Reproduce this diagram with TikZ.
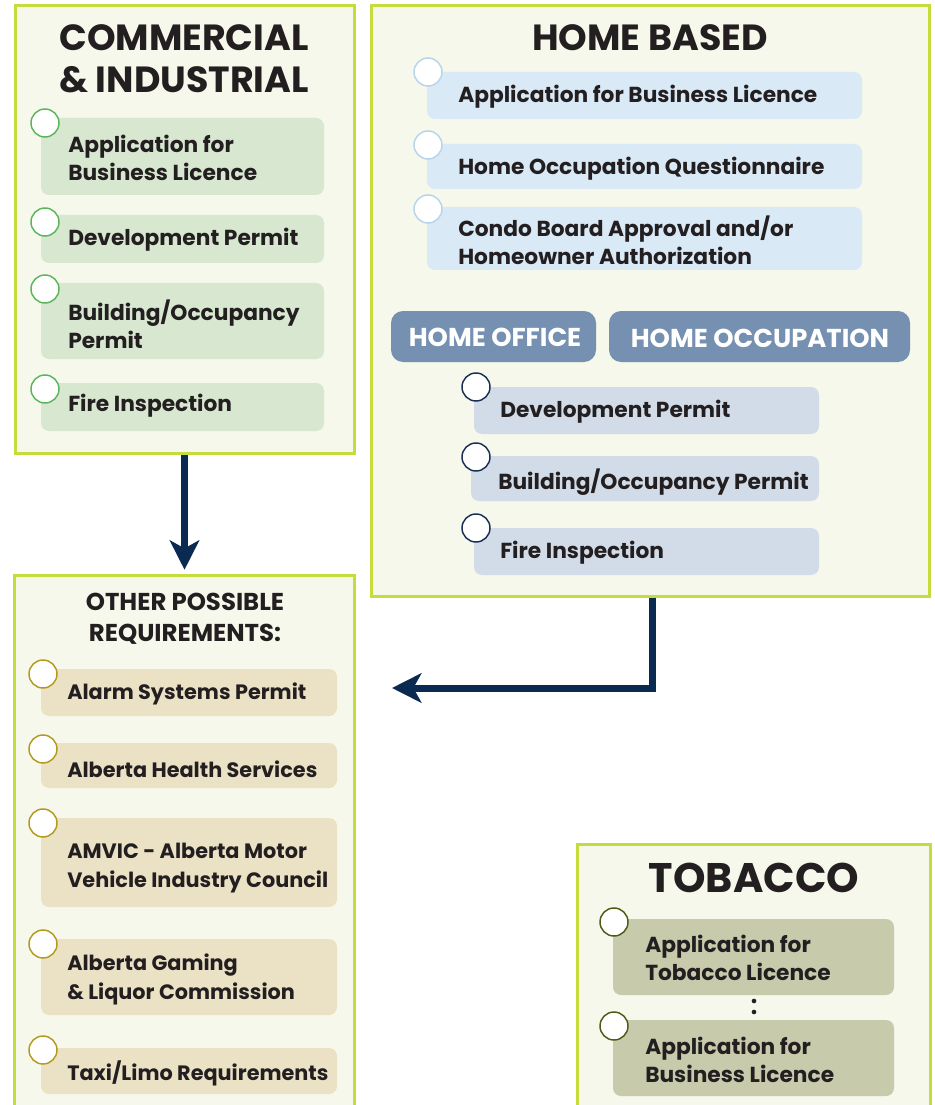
\documentclass[tikz,border=0pt]{standalone}
\usepackage{fontspec}
\setmainfont{Poppins}
\usetikzlibrary{arrows.meta,fit}
\definecolor{panelfill}{HTML}{F5F8EA}
\definecolor{panelline}{HTML}{C6DB3C}
\definecolor{greenfill}{HTML}{D7E7D0}
\definecolor{greencirc}{HTML}{5BB55B}
\definecolor{bluefill}{HTML}{DAE9F6}
\definecolor{bluecirc}{HTML}{B7D4EE}
\definecolor{tabfill}{HTML}{7590B0}
\definecolor{slatefill}{HTML}{D2DCE8}
\definecolor{navycirc}{HTML}{1B2F55}
\definecolor{tanfill}{HTML}{EBE2C6}
\definecolor{goldcirc}{HTML}{B39A1E}
\definecolor{olivefill}{HTML}{C7CBAC}
\definecolor{olivecirc}{HTML}{4F5A14}
\definecolor{arrowcol}{HTML}{0B2A52}
\definecolor{txt}{HTML}{231F20}
\newcommand\itemfont{\bfseries\fontsize{16.3}{21}\selectfont}
\newcommand\smallitemfont{\bfseries\fontsize{15.6}{21.5}\selectfont}
\newcommand\titlefont{\bfseries\fontsize{27.3}{31.5}\selectfont}
\newcommand\tabfont{\bfseries\fontsize{19.4}{22}\selectfont}
\begin{document}
\begin{tikzpicture}[x=0.75pt,y=-0.75pt,
  panel/.style={fill=panelfill,inner sep=0pt},
  panelborder/.style={draw=panelline,line width=2.25pt},
  itm/.style={rounded corners=6pt,inner sep=0pt,fit={#1}},
  lbl/.style={anchor=west,align=left,inner sep=0pt,font=\itemfont,text=txt,yshift=-1.6pt},
  slbl/.style={lbl,font=\smallitemfont},
  ttl/.style={align=center,inner sep=0pt,font=\titlefont,text=txt},
  dot/.style={circle,fill=white,draw=#1,line width=1.1pt,minimum size=21pt,inner sep=0pt},
  tab/.style={fill=tabfill,rounded corners=9pt,inner sep=0pt},
  tabtxt/.style={text=white,font=\tabfont,inner sep=0pt},
  arr/.style={draw=arrowcol,line width=5.25pt,-{Stealth[length=22pt,width=22pt,inset=6pt]}}]
\useasboundingbox (0,0) rectangle (934,1105);

% ---------- Commercial & Industrial ----------
\node[panel,panelborder,fit={(15,6)(354,453)}] (ci) {};
\node[ttl] (citl) at (184,59) {COMMERCIAL\\\& INDUSTRIAL};
\node[itm={(41,118)(324,195)},fill=greenfill] (ci1) {};
\node[itm={(41,215)(324,263)},fill=greenfill] (ci2) {};
\node[itm={(41,283)(324,359)},fill=greenfill] (ci3) {};
\node[itm={(41,383)(324,431)},fill=greenfill] (ci4) {};
\node[dot=greencirc] (cic1) at (45,123) {};
\node[dot=greencirc] (cic2) at (45,222) {};
\node[dot=greencirc] (cic3) at (45,289) {};
\node[dot=greencirc] (cic4) at (45,389) {};
\node[lbl] (cit1) at (68,156) {Application for\\Business Licence};
\node[lbl] (cit2) at (68,238) {Development Permit};
\node[lbl] (cit3) at (68,322) {Building/Occupancy\\Permit};
\node[lbl] (cit4) at (68,404) {Fire Inspection};

% ---------- Home based ----------
\node[panel,panelborder,fit={(371,6)(929,596)}] (hb) {};
\node[ttl] (hbtl) at (650,38) {HOME BASED};
\node[itm={(427,72)(862,119)},fill=bluefill] (hb1) {};
\node[itm={(427,144)(862,189)},fill=bluefill] (hb2) {};
\node[itm={(427,207)(862,270)},fill=bluefill] (hb3) {};
\node[dot=bluecirc] (hbc1) at (428,72) {};
\node[dot=bluecirc] (hbc2) at (428,145) {};
\node[dot=bluecirc] (hbc3) at (428,209) {};
\node[lbl] (hbt1) at (458,95) {Application for Business Licence};
\node[lbl] (hbt2) at (458,167) {Home Occupation Questionnaire};
\node[lbl] (hbt3) at (458,238) {Condo Board Approval and/or\\Homeowner Authorization};
\node[tab,fit={(391,311)(596,362)}] (ho) {};
\node[tabtxt] (hot) at (495,337) {HOME OFFICE};
\node[tab,fit={(609,311)(910,362)}] (hoc) {};
\node[tabtxt] (hoct) at (760,338) {HOME OCCUPATION};
\node[itm={(474,387)(819,434)},fill=slatefill] (hs1) {};
\node[itm={(471,456)(819,501)},fill=slatefill] (hs2) {};
\node[itm={(474,528)(819,575)},fill=slatefill] (hs3) {};
\node[dot=navycirc] (hsc1) at (476,387) {};
\node[dot=navycirc] (hsc2) at (476,457) {};
\node[dot=navycirc] (hsc3) at (476,528) {};
\node[lbl] (hst1) at (500,410) {Development Permit};
\node[lbl] (hst2) at (498,480) {Building/Occupancy Permit};
\node[lbl] (hst3) at (500,551) {Fire Inspection};

% ---------- Other possible requirements ----------
\node[panel,fit={(15,576)(354,1105)}] (op) {};
\draw[panelborder] (op.south west) -- (op.north west) -- (op.north east) -- (op.south east);
\node[ttl,font=\bfseries\fontsize{18.3}{23.5}\selectfont] (optl) at (185,619) {OTHER POSSIBLE\\REQUIREMENTS:};
\node[itm={(41,669)(337,716)},fill=tanfill] (op1) {};
\node[itm={(41,743)(337,788)},fill=tanfill] (op2) {};
\node[itm={(41,818)(337,907)},fill=tanfill] (op3) {};
\node[itm={(41,939)(337,1015)},fill=tanfill] (op4) {};
\node[itm={(41,1048)(337,1094)},fill=tanfill] (op5) {};
\node[dot=goldcirc] (opc1) at (43,674) {};
\node[dot=goldcirc] (opc2) at (43,749) {};
\node[dot=goldcirc] (opc3) at (43,823) {};
\node[dot=goldcirc] (opc4) at (43,944) {};
\node[dot=goldcirc] (opc5) at (43,1050) {};
\node[slbl] (opt1) at (67,692) {Alarm Systems Permit};
\node[slbl] (opt2) at (67,767) {Alberta Health Services};
\node[slbl] (opt3) at (67,866) {AMVIC - Alberta Motor\\Vehicle Industry Council};
\node[slbl] (opt4) at (67,977) {Alberta Gaming\\\& Liquor Commission};
\node[slbl] (opt5) at (67,1071) {Taxi/Limo Requirements};

% ---------- Tobacco ----------
\node[panel,fit={(578,845)(930,1105)}] (tb) {};
\draw[panelborder] (tb.south west) -- (tb.north west) -- (tb.north east) -- (tb.south east);
\node[ttl,font=\bfseries\fontsize{31}{34}\selectfont] (tbtl) at (754,878) {TOBACCO};
\node[itm={(613,919)(894,995)},fill=olivefill] (tb1) {};
\node[itm={(613,1020)(894,1096)},fill=olivefill] (tb2) {};
\node[dot=olivecirc] (tbc1) at (614,922) {};
\node[dot=olivecirc] (tbc2) at (614,1026) {};
\node[lbl] (tbt1) at (645,956) {Application for\\Tobacco Licence};
\node[lbl] (tbt2) at (645,1058) {Application for\\Business Licence};
\node[circle,fill=txt,minimum size=3.5pt,inner sep=0pt] (d1) at (754,1001) {};
\node[circle,fill=txt,minimum size=3.5pt,inner sep=0pt] (d2) at (754,1012) {};

% ---------- Arrows ----------
\coordinate (a2end) at (392,688);
\draw[arr] (ci.south) -- ([yshift=4.5pt]op.north);
\draw[arr] ([xshift=1.5pt]hb.south) |- (a2end);
\end{tikzpicture}
\end{document}
